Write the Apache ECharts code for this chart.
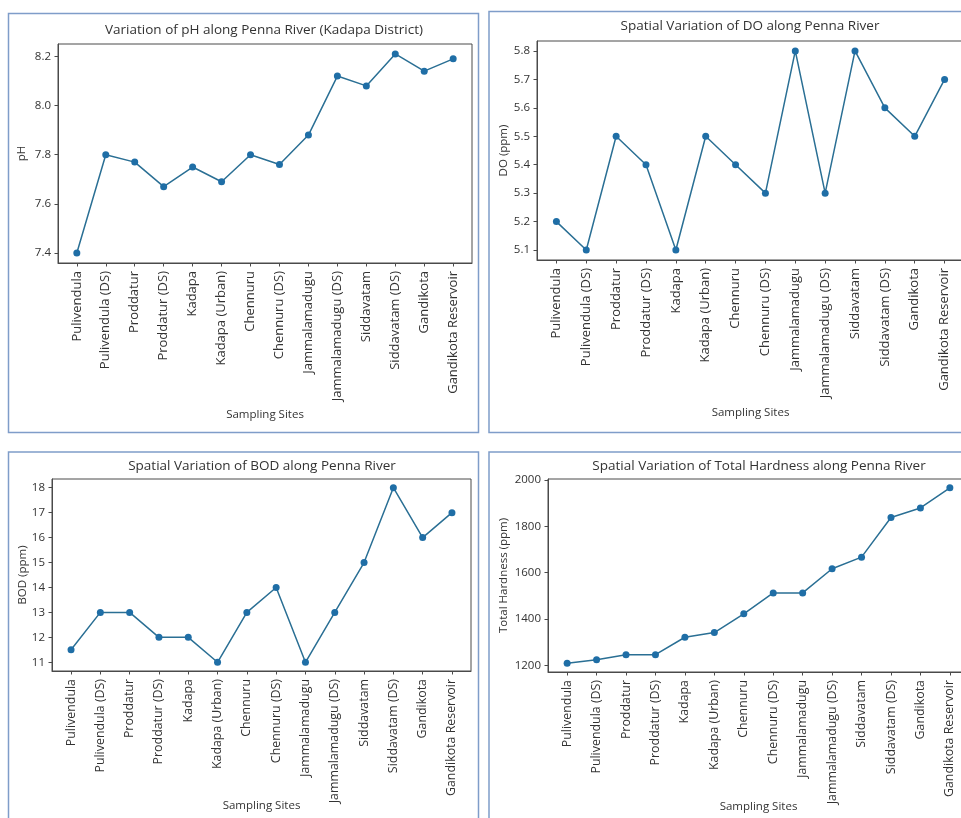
<!DOCTYPE html>
<html>
<head>
<meta charset="utf-8">
<title>Penna River Water Quality</title>
<script src="https://cdn.jsdelivr.net/npm/echarts@6.0.0/dist/echarts.min.js"></script>
<style>
  html, body { margin: 0; padding: 0; background: #fff; }
  #chart { width: 961px; height: 818px; }
</style>
</head>
<body>
<div id="chart"></div>
<script>
// Sampling sites along the Penna River (Kadapa District)
const sites = [
  'Pulivendula', 'Pulivendula (DS)', 'Proddatur', 'Proddatur (DS)', 'Kadapa',
  'Kadapa (Urban)', 'Chennuru', 'Chennuru (DS)', 'Jammalamadugu', 'Jammalamadugu (DS)',
  'Siddavatam', 'Siddavatam (DS)', 'Gandikota', 'Gandikota Reservoir'
];

// Measured parameters per site
const phValues = [7.40, 7.80, 7.77, 7.67, 7.75, 7.69, 7.80, 7.76, 7.88, 8.12, 8.08, 8.21, 8.14, 8.19];
const doValues = [5.2, 5.1, 5.5, 5.4, 5.1, 5.5, 5.4, 5.3, 5.8, 5.3, 5.8, 5.6, 5.5, 5.7];
const bodValues = [11.5, 13, 13, 12, 12, 11, 13, 14, 11, 13, 15, 18, 16, 17];
const hardnessValues = [1210, 1225, 1247, 1247, 1322, 1342, 1423, 1513, 1513, 1617, 1667, 1838, 1879, 1966];

// Y tick labels for each panel
const phTicks = ['7.4', '7.6', '7.8', '8.0', '8.2'];
const doTicks = ['5.1', '5.2', '5.3', '5.4', '5.5', '5.6', '5.7', '5.8'];
const bodTicks = ['11', '12', '13', '14', '15', '16', '17', '18'];
const hardnessTicks = ['1200', '1400', '1600', '1800', '2000'];

const FONT = 'Open Sans';
const TEXT = '#333';
const FRAME = '#4a4a4a';
const LINE = '#2a6f94';
const MARK = '#1f6ea6';

const panels = [
  { title: 'Variation of pH along Penna River (Kadapa District)', yName: 'pH',
    values: phValues, ticks: phTicks,
    grid: { left: 58, top: 44, width: 414, height: 219 },
    titlePos: [264, 23], yGap: 30, xGap: 146, siteFont: 13 },
  { title: 'Spatial Variation of DO along Penna River', yName: 'DO (ppm)',
    values: doValues, ticks: doTicks,
    grid: { left: 537, top: 41, width: 427, height: 219 },
    titlePos: [750, 19], yGap: 27, xGap: 147, siteFont: 13 },
  { title: 'Spatial Variation of BOD along Penna River', yName: 'BOD (ppm)',
    values: bodValues, ticks: bodTicks,
    grid: { left: 52, top: 479, width: 419, height: 192 },
    titlePos: [262, 459], yGap: 23, xGap: 129, siteFont: 12.4 },
  { title: 'Spatial Variation of Total Hardness along Penna River', yName: 'Total Hardness (ppm)',
    values: hardnessValues, ticks: hardnessTicks,
    grid: { left: 548, top: 479, width: 421, height: 193 },
    titlePos: [759, 459], yGap: 38, xGap: 129, siteFont: 12.4 }
];

// 5% padding around the data range on both axes
function paddedRange(vals) {
  const lo = Math.min(...vals), hi = Math.max(...vals);
  const pad = (hi - lo) * 0.05;
  return [lo - pad, hi + pad];
}
const siteIdx = sites.map((_, i) => i);
const xPad = (sites.length - 1) * 0.05;

const axisLineStyle = { show: true, onZero: false, lineStyle: { color: FRAME, width: 1 } };

const option = {
  backgroundColor: '#fff',
  animation: false,
  title: panels.map(p => ({
    text: p.title,
    left: p.titlePos[0],
    top: p.titlePos[1],
    textAlign: 'center',
    padding: 0,
    textStyle: { fontFamily: FONT, fontSize: 13.5, fontWeight: 'normal', color: TEXT }
  })),
  grid: panels.map(p => Object.assign({
    show: true, borderColor: FRAME, borderWidth: 1, backgroundColor: '#fff',
    containLabel: false, outerBoundsMode: 'none'
  }, p.grid)),
  xAxis: panels.map((p, k) => ({
    type: 'value',
    gridIndex: k,
    min: -xPad,
    max: sites.length - 1 + xPad,
    name: 'Sampling Sites',
    nameLocation: 'middle',
    nameGap: p.xGap,
    nameMoveOverlap: false,
    nameTextStyle: { fontFamily: FONT, fontSize: 11.5, color: TEXT },
    splitLine: { show: false },
    axisLine: axisLineStyle,
    axisTick: { show: true, length: 3.5, customValues: siteIdx, lineStyle: { color: FRAME } },
    axisLabel: {
      customValues: siteIdx,
      rotate: 90,
      margin: 8,
      fontFamily: FONT, fontSize: p.siteFont, color: TEXT,
      formatter: v => sites[Math.round(v)]
    }
  })),
  yAxis: panels.map((p, k) => {
    const [lo, hi] = paddedRange(p.values);
    const tickVals = p.ticks.map(Number);
    return {
      type: 'value',
      gridIndex: k,
      min: lo,
      max: hi,
      name: p.yName,
      nameLocation: 'middle',
      nameGap: p.yGap,
      nameMoveOverlap: false,
      nameTextStyle: { fontFamily: FONT, fontSize: 11.5, color: TEXT },
      splitLine: { show: false },
      axisLine: axisLineStyle,
      axisTick: { show: true, length: 3.5, customValues: tickVals, lineStyle: { color: FRAME } },
      axisLabel: {
        customValues: tickVals,
        margin: 7,
        fontFamily: FONT, fontSize: 11.5, color: TEXT,
        formatter: v => p.ticks[tickVals.findIndex(t => Math.abs(t - v) < 1e-6)]
      }
    };
  }),
  series: panels.map((p, k) => ({
    type: 'line',
    xAxisIndex: k,
    yAxisIndex: k,
    data: p.values.map((v, i) => [i, v]),
    symbol: 'circle',
    symbolSize: 7,
    lineStyle: { color: LINE, width: 1.5 },
    itemStyle: { color: MARK },
    z: 3
  })),
  graphic: [
    { type: 'rect', shape: { x: 8.5, y: 13.5, width: 470, height: 419 } },
    { type: 'rect', shape: { x: 489, y: 11.5, width: 480, height: 421 } },
    { type: 'rect', shape: { x: 8.5, y: 452, width: 470, height: 400 } },
    { type: 'rect', shape: { x: 489, y: 452, width: 480, height: 400 } }
  ].map(r => Object.assign(r, {
    silent: true, z: -1,
    style: { fill: 'none', stroke: '#7f9dc9', lineWidth: 1.5 }
  }))
};

const chart = echarts.init(document.getElementById('chart'), null, { renderer: 'canvas' });
chart.setOption(option);
</script>
</body>
</html>
